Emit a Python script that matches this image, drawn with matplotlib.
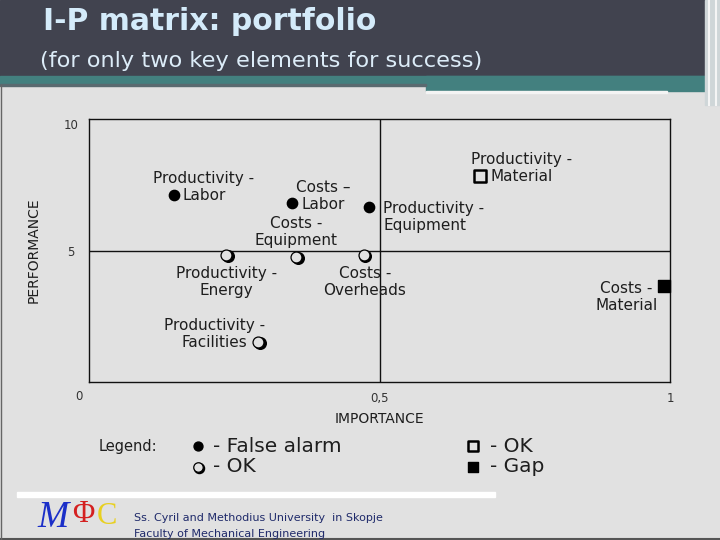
import matplotlib
matplotlib.use("Agg")
import matplotlib.pyplot as plt
from matplotlib.patches import Rectangle
import matplotlib.transforms as mtransforms

# Data
labels = ["Productivity -\nLabor", "Costs \u2013\nLabor", "Productivity -\nEquipment",
          "Costs -\nEquipment", "Productivity -\nEnergy", "Costs -\nOverheads",
          "Productivity -\nFacilities", "Productivity -\nMaterial", "Costs -\nMaterial"]
importance = [0.146, 0.350, 0.482, 0.356, 0.236, 0.473, 0.291, 0.673, 0.990]
performance = [7.10, 6.80, 6.65, 4.75, 4.83, 4.83, 1.52, 7.83, 3.65]
status = ["false_alarm", "false_alarm", "false_alarm", "ok_circle", "ok_circle",
          "ok_circle", "ok_circle", "ok_square", "gap"]

x_ticks = [0.5, 1]
x_tick_labels = ["0,5", "1"]
y_ticks = [5, 10]
y_tick_labels = ["5", "10"]

legend_items = [("false_alarm", "- False alarm"), ("ok_circle", "- OK"),
                ("ok_square", "- OK"), ("gap", "- Gap")]

BG = "#e1e1e1"
DARK = "#41434f"
TEAL = "#43807f"
TXT = "#1e1e1e"

fig = plt.figure(figsize=(7.2, 5.4), dpi=100)
fig.patch.set_facecolor(BG)

# slide decoration in pixel coordinates
bg = fig.add_axes([0, 0, 1, 1])
bg.set_xlim(0, 720)
bg.set_ylim(540, 0)
bg.axis("off")
bg.set_zorder(0)
bg.add_patch(Rectangle((0, 0), 720, 76, color=DARK))
bg.add_patch(Rectangle((0, 76), 705, 8, color=TEAL))
bg.add_patch(Rectangle((426, 76), 279, 15, color=TEAL))
bg.add_patch(Rectangle((0, 84), 426, 1.5, color="#5a6a70"))
bg.add_patch(Rectangle((426, 91), 241, 1.5, color="#f4f4f4"))
bg.add_patch(Rectangle((705, 0), 15, 105, color="#cfd6d8"))
bg.plot([709, 709], [0, 105], color="#f5f5f5", lw=1.5)
bg.plot([716, 716], [0, 105], color="#f5f5f5", lw=1.5)
bg.plot([0, 720], [539, 539], color="#555555", lw=1.5)
bg.plot([0.5, 0.5], [85, 540], color="#666666", lw=1)
bg.add_patch(Rectangle((17, 492), 478, 5, color="white"))

bg.text(43, 21, "I-P matrix: portfolio", color="#d4ebfa", fontsize=21.5,
        fontweight="bold", va="center", ha="left")
bg.text(40, 61, "(for only two key elements for success)", color="#dcecf8",
        fontsize=16.2, va="center", ha="left")

# footer
bg.text(37, 518, "M", color="#1b2fc8", fontsize=27, style="italic",
        fontfamily="Liberation Serif", va="center", ha="left")
bg.text(72, 515, "\u03a6", color="#d42020", fontsize=22,
        fontfamily="Liberation Serif", va="center", ha="left")
bg.text(97, 517, "C", color="#e8d020", fontsize=22,
        fontfamily="Liberation Serif", va="center", ha="left")
bg.text(134, 518, "Ss. Cyril and Methodius University  in Skopje", color="#1f2a6a",
        fontsize=8, va="center", ha="left")
bg.text(134, 534, "Faculty of Mechanical Engineering", color="#1f2a6a",
        fontsize=8, va="center", ha="left")

# main I-P matrix
ax = fig.add_axes([89 / 720, (540 - 382) / 540, 581 / 720, 263 / 540])
ax.set_zorder(1)
ax.patch.set_alpha(0)
ax.set_xlim(0, 1)
ax.set_ylim(0, 10)
for s in ax.spines.values():
    s.set_linewidth(1.0)
    s.set_color("#111111")
ax.axvline(0.5, color="#111111", lw=1.0)
ax.axhline(5, color="#111111", lw=1.0)
ax.set_xticks(x_ticks)
ax.set_xticklabels(x_tick_labels, fontsize=8.5, color="#333333")
ax.set_yticks(y_ticks)
ax.set_yticklabels(y_tick_labels, fontsize=8.5, color="#333333")
ax.tick_params(axis="x", length=0, pad=7)
ax.tick_params(axis="y", length=0, pad=13)
for t in ax.get_yticklabels():
    t.set_horizontalalignment("center")
ax.get_yticklabels()[-1].set_verticalalignment("top")
ax.text(-0.018, -0.03, "0", transform=ax.transAxes, fontsize=8.5, color="#333333",
        ha="center", va="top")
ax.set_xlabel("IMPORTANCE", fontsize=10, color=TXT, labelpad=5)
ax.set_ylabel("PERFORMANCE", fontsize=10, color=TXT, labelpad=12)
ax.yaxis.set_label_coords(-0.083, 0.5)


def draw_marker(a, x, y, kind, scale=1.0, trans=None):
    if trans is None:
        trans = a.transData
    if kind == "false_alarm":
        a.scatter([x], [y], s=55 * scale, color="black", transform=trans, zorder=5,
                  clip_on=False)
    elif kind == "ok_circle":
        sh = mtransforms.offset_copy(trans, fig=fig, x=1.2 * scale, y=-1.0 * scale,
                                     units="points")
        a.scatter([x], [y], s=70 * scale, color="black", transform=sh, zorder=5,
                  clip_on=False)
        a.scatter([x], [y], s=62 * scale, facecolor=BG, edgecolor="black",
                  linewidths=0.9, transform=trans, zorder=6, clip_on=False)
    elif kind == "ok_square":
        a.scatter([x], [y], s=70 * scale, marker="s", facecolor=BG, edgecolor="black",
                  linewidths=1.8, transform=trans, zorder=5, clip_on=False)
    elif kind == "gap":
        a.scatter([x], [y], s=80 * scale, marker="s", color="black", transform=trans,
                  zorder=5, clip_on=False)


for xi, yi, k in zip(importance, performance, status):
    draw_marker(ax, xi, yi, k)

# label placement (offset in pixels from each point)
offsets = [(30, 8, "center"), (31, 7, "center"), (14, -10, "left"),
           (0, 25, "center"), (0, -27, "center"), (1, -27, "center"),
           (-44, 8, "center"), (42, 8, "center"), (-38, -11, "center")]
for lab, xi, yi, (dx, dy, ha) in zip(labels, importance, performance, offsets):
    ax.annotate(lab, (xi, yi), xytext=(dx, dy), textcoords="offset pixels",
                ha=ha, va="center", fontsize=11, color=TXT, linespacing=1.15,
                multialignment="center" if ha == "center" else "left", zorder=7)

# legend block below the matrix
bg.text(99, 447, "Legend:", fontsize=10.5, color=TXT, va="center", ha="left")
leg_pos = [(198, 446), (198, 467), (473, 446), (473, 467)]
for (kind, txt), (px, py) in zip(legend_items, leg_pos):
    draw_marker(bg, px, py, kind, scale=0.75)
    bg.text(px + (15 if px < 300 else 17), py, txt, fontsize=14.5, color=TXT,
            va="center", ha="left")

fig.savefig("out.png", dpi=100, facecolor=BG)
